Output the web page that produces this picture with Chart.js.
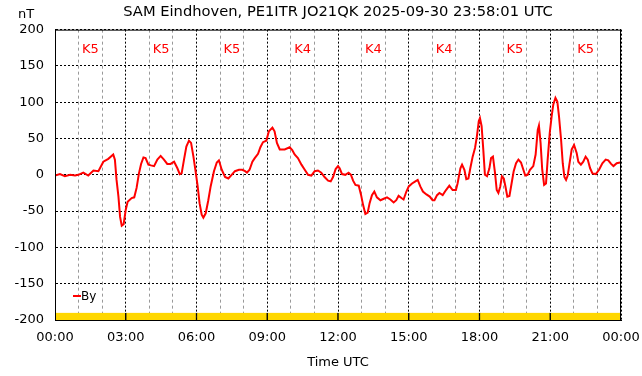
<!DOCTYPE html>
<html>
<head>
<meta charset="utf-8">
<script src="https://cdn.jsdelivr.net/npm/chart.js@4.4.0/dist/chart.umd.min.js"></script>
<style>
  body { margin: 0; background: #fff; }
  canvas { display: block; }
</style>
</head>
<body>
<canvas id="myChart" width="642" height="376"></canvas>
<script>
// time of day in hours (UTC) and By in nT
var hours = [0, 0.21, 0.42, 0.64, 0.85, 0.99, 1.2, 1.41, 1.63, 1.84, 2.05, 2.26, 2.47, 2.54, 2.61, 2.69, 2.76, 2.83, 2.91, 3.0,
    3.08, 3.25, 3.36, 3.46, 3.56, 3.65, 3.75, 3.84, 3.96, 4.07, 4.2, 4.34, 4.48, 4.62, 4.76, 4.9, 5.05, 5.19, 5.29, 5.37,
    5.47, 5.57, 5.68, 5.77, 5.87, 5.96, 6.05, 6.13, 6.22, 6.29, 6.39, 6.5, 6.6, 6.74, 6.86, 6.95, 7.07, 7.21, 7.35, 7.49,
    7.63, 7.8, 7.94, 8.06, 8.14, 8.25, 8.37, 8.47, 8.61, 8.71, 8.82, 8.96, 9.07, 9.22, 9.31, 9.41, 9.53, 9.74, 9.95, 10.06,
    10.16, 10.3, 10.45, 10.59, 10.73, 10.87, 11.01, 11.15, 11.29, 11.43, 11.58, 11.69, 11.79, 11.9, 12.0, 12.07, 12.17, 12.31, 12.45, 12.55,
    12.64, 12.74, 12.88, 12.98, 13.06, 13.16, 13.26, 13.34, 13.44, 13.54, 13.65, 13.8, 13.94, 14.08, 14.22, 14.36, 14.47, 14.57, 14.69, 14.78,
    14.9, 15.0, 15.14, 15.28, 15.38, 15.49, 15.6, 15.75, 15.89, 16.01, 16.09, 16.2, 16.3, 16.44, 16.58, 16.72, 16.86, 17.0, 17.07, 17.19,
    17.26, 17.36, 17.44, 17.53, 17.61, 17.71, 17.81, 17.89, 17.97, 18.02, 18.09, 18.16, 18.23, 18.32, 18.42, 18.49, 18.57, 18.66, 18.73, 18.8,
    18.88, 18.95, 19.03, 19.1, 19.18, 19.27, 19.36, 19.45, 19.55, 19.65, 19.76, 19.86, 19.94, 20.04, 20.14, 20.28, 20.38, 20.47, 20.52, 20.59,
    20.66, 20.74, 20.82, 20.89, 20.98, 21.06, 21.13, 21.22, 21.3, 21.37, 21.46, 21.53, 21.6, 21.67, 21.74, 21.81, 21.91, 22.01, 22.12, 22.19,
    22.3, 22.4, 22.5, 22.59, 22.69, 22.79, 22.93, 23.07, 23.21, 23.35, 23.46, 23.58, 23.68, 23.82, 23.96]
var By = [-1, 1, -2, 0, -1, 0, 3, -1, 6, 5, 18, 22, 28, 21, -7, -30, -58, -70, -68, -48,
    -37, -32, -31, -18, 2, 15, 24, 23, 14, 13, 12, 21, 26, 21, 15, 15, 18, 9, 1, 2,
    21, 39, 47, 44, 25, 5, -16, -39, -55, -59, -53, -35, -16, 5, 17, 20, 7, -3, -5, 0,
    5, 7, 7, 5, 3, 7, 18, 23, 29, 38, 45, 47, 60, 65, 60, 44, 35, 35, 38, 34,
    28, 23, 14, 7, 0, -1, 5, 6, 3, -3, -8, -9, -3, 8, 12, 9, 1, 0, 3, 0,
    -8, -14, -15, -28, -41, -54, -52, -39, -28, -23, -31, -35, -33, -31, -34, -38, -35, -29, -32, -34,
    -23, -16, -12, -9, -7, -16, -23, -27, -30, -35, -35, -28, -25, -28, -21, -15, -21, -21, -12, 9,
    14, 7, -6, -5, 9, 25, 37, 53, 74, 78, 67, 35, 0, -2, 9, 23, 25, 2, -21, -25,
    -16, -2, -5, -16, -30, -29, -12, 5, 16, 21, 17, 7, -1, 0, 7, 12, 28, 62, 68, 44,
    7, -14, -12, 21, 58, 81, 97, 106, 101, 81, 48, 16, -3, -7, -1, 14, 35, 41, 30, 18,
    14, 18, 25, 21, 9, 2, 1, 7, 16, 21, 20, 15, 12, 16, 17]

// K index per 3 hour block
var kIndex = ['K5', 'K5', 'K5', 'K4', 'K4', 'K4', 'K5', 'K5']
var yTicks = [-200, -150, -100, -50, 0, 50, 100, 150, 200]
var xTicks = ['00:00', '03:00', '06:00', '09:00', '12:00', '15:00', '18:00', '21:00', '00:00']

var title = 'SAM Eindhoven, PE1ITR JO21QK 2025-09-30 23:58:01 UTC'

Chart.defaults.font.family = 'DejaVu Sans'
Chart.defaults.font.size = 13
Chart.defaults.color = '#000'

var lineData = hours.map(function (h, i) { return { x: h, y: By[i] } })
var bandData = kIndex.map(function (k, i) { return { x: 1.5 + 3 * i, y: [-200, -190] } })

// frame, K labels, unit and legend
var extras = {
    id: 'extras',
    afterDraw: function (chart) {
        var c = chart.ctx
        var a = chart.chartArea
        var xs = chart.scales.x
        c.save()
        c.strokeStyle = '#000'
        c.lineWidth = 1
        c.setLineDash([])
        c.strokeRect(a.left + 0.5, a.top + 0.5, a.right - a.left - 1, a.bottom - a.top)

        c.fillStyle = '#ff0000'
        c.font = '13px DejaVu Sans'
        c.textAlign = 'center'
        c.textBaseline = 'middle'
        kIndex.forEach(function (k, i) {
            c.fillText(k, xs.getPixelForValue(1.5 + 3 * i), a.top + 20)
        })

        c.fillStyle = '#000'
        c.fillText('nT', 26, 15)

        // legend
        c.strokeStyle = '#ff0000'
        c.lineWidth = 2
        c.beginPath()
        c.moveTo(a.left + 18, a.bottom - 24)
        c.lineTo(a.left + 26, a.bottom - 24)
        c.stroke()
        c.fillStyle = '#000'
        c.font = '12px DejaVu Sans'
        c.textAlign = 'left'
        c.fillText(chart.data.datasets[0].label, a.left + 26, a.bottom - 23)
        c.restore()
    }
}

var myChart = document.getElementById('myChart').getContext('2d')

var chart = new Chart(myChart, {
    data: {
        datasets: [
            {
                type: 'line',
                label: 'By',
                data: lineData,
                borderColor: '#ff0000',
                borderWidth: 2,
                pointRadius: 0,
                tension: 0,
                fill: false
            },
            {
                type: 'bar',
                label: 'K',
                data: bandData,
                backgroundColor: '#ffd700',
                borderColor: '#000',
                borderWidth: { left: 1, right: 1, top: 0, bottom: 0 },
                borderSkipped: false,
                barThickness: 'flex',
                barPercentage: 1,
                categoryPercentage: 1
            }
        ]
    },
    options: {
        responsive: false,
        animation: false,
        layout: { padding: { right: 21, left: 0, top: 0, bottom: 0 } },
        plugins: {
            legend: { display: false },
            tooltip: { enabled: false },
            title: {
                display: true,
                text: title,
                fullSize: false,
                color: '#000',
                font: { size: 14.7, weight: 'normal' },
                padding: { top: 3, bottom: 9 }
            }
        },
        scales: {
            x: {
                type: 'linear',
                min: 0,
                max: 24,
                offset: false,
                afterFit: function (s) {
                    s.height = 56
                    s.paddingLeft = 0
                    s.paddingRight = 0
                },
                afterBuildTicks: function (s) {
                    s.ticks = []
                    for (var h = 0; h <= 24; h++) s.ticks.push({ value: h })
                },
                ticks: {
                    autoSkip: false,
                    maxRotation: 0,
                    padding: 10,
                    callback: function (v) { return v % 3 === 0 ? xTicks[v / 3] : '' }
                },
                grid: {
                    drawTicks: false,
                    offset: false,
                    color: function (ctx) {
                        return ctx.tick && ctx.tick.value % 3 === 0 ? '#000' : '#999'
                    }
                },
                border: {
                    color: '#000',
                    dash: function (ctx) {
                        if (!ctx.tick) return []
                        return ctx.tick.value % 3 === 0 ? [2, 2] : [3, 3]
                    }
                },
                title: {
                    display: true,
                    text: 'Time UTC',
                    padding: { top: 0, bottom: 6 }
                }
            },
            y: {
                min: -200,
                max: 200,
                afterFit: function (s) {
                    s.width = 55
                    s.paddingTop = 0
                    s.paddingBottom = 0
                },
                afterBuildTicks: function (s) {
                    s.ticks = yTicks.map(function (v) { return { value: v } })
                },
                ticks: { padding: 11 },
                grid: { drawTicks: false, color: '#000' },
                border: {
                    color: '#000',
                    dash: function (ctx) { return ctx.tick ? [2, 2] : [] }
                }
            }
        }
    },
    plugins: [extras]
})
</script>
</body>
</html>
